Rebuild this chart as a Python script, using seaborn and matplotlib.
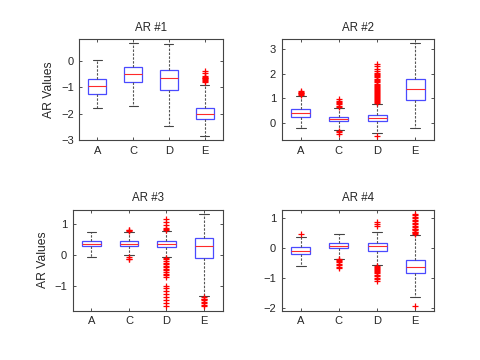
import numpy as np
import pandas as pd
import matplotlib
matplotlib.use("Agg")
import matplotlib.pyplot as plt
import seaborn as sns

categories = ["A", "C", "D", "E"]

# Panel AR #1 : five-number summaries (lower whisker, Q1, median, Q3, upper whisker)
ar1_lo = [-1.78, -1.72, -2.46, -2.82]
ar1_q1 = [-1.23, -0.78, -1.10, -2.20]
ar1_med = [-0.96, -0.51, -0.66, -1.99]
ar1_q3 = [-0.70, -0.24, -0.34, -1.76]
ar1_hi = [0.05, 0.67, 0.63, -0.89]
ar1_outliers = {"E": [-0.37, -0.45, -0.55, -0.60, -0.63, -0.66, -0.70, -0.72, -0.75, -0.80]}

# Panel AR #2
ar2_lo = [-0.23, -0.31, -0.44, -0.23]
ar2_q1 = [0.25, 0.05, 0.05, 0.93]
ar2_med = [0.38, 0.15, 0.18, 1.36]
ar2_q3 = [0.56, 0.25, 0.30, 1.77]
ar2_hi = [1.10, 0.59, 0.78, 3.25]
ar2_outliers = {
    "A": [1.15, 1.18, 1.20, 1.22, 1.25, 1.28],
    "C": [0.65, 0.70, 0.75, 0.80, 0.85, 0.90, 0.95, -0.35, -0.40, -0.45],
    "D": [0.82, 0.86, 0.90, 0.94, 0.98, 1.02, 1.06, 1.10, 1.14, 1.18, 1.22, 1.26,
          1.30, 1.34, 1.38, 1.42, 1.46, 1.50, 1.55, 1.60, 1.65, 1.70, 1.75, 1.80,
          1.85, 1.90, 1.95, 2.00, 2.05, 2.10, 2.20, 2.30, 2.40, -0.53],
}

# Panel AR #3
ar3_lo = [-0.07, 0.00, -0.07, -1.33]
ar3_q1 = [0.27, 0.28, 0.26, -0.09]
ar3_med = [0.34, 0.35, 0.36, 0.28]
ar3_q3 = [0.45, 0.43, 0.43, 0.54]
ar3_hi = [0.72, 0.72, 0.77, 1.29]
ar3_outliers = {
    "C": [0.75, 0.78, 0.80, -0.08, -0.12, -0.15],
    "D": [0.80, 0.82, 0.85, 0.95, 1.05, 1.15, -0.10, -0.15, -0.20, -0.25, -0.30,
          -0.35, -0.40, -0.45, -0.50, -0.55, -0.60, -0.65, -0.70, -1.00, -1.05,
          -1.15, -1.25, -1.35, -1.45, -1.55, -1.65],
    "E": [-1.36, -1.40, -1.43, -1.46, -1.50, -1.55, -1.60, -1.65],
}

# Panel AR #4
ar4_lo = [-0.60, -0.35, -0.58, -1.65]
ar4_q1 = [-0.19, 0.00, -0.09, -0.84]
ar4_med = [-0.08, 0.09, 0.08, -0.62]
ar4_q3 = [0.03, 0.18, 0.17, -0.41]
ar4_hi = [0.39, 0.49, 0.56, 0.44]
ar4_outliers = {
    "A": [0.49],
    "C": [-0.37, -0.40, -0.43, -0.47, -0.52, -0.57, -0.62, -0.67],
    "D": [0.73, 0.80, 0.87, -0.60, -0.63, -0.66, -0.70, -0.73, -0.76, -0.80, -0.85,
          -0.90, -0.95, -1.00, -1.05, -1.10],
    "E": [0.47, 0.50, 0.53, 0.56, 0.60, 0.63, 0.66, 0.70, 0.75, 0.80, 0.85, 0.90,
          0.95, 1.00, 1.05, 1.10, 1.15, -1.93],
}

titles = ["AR #1", "AR #2", "AR #3", "AR #4"]
yticks = [[-3, -2, -1, 0], [0, 1, 2, 3], [-1, 0, 1], [-2, -1, 0, 1]]
ylims = [(-3.0, 0.82), (-0.72, 3.41), (-1.79, 1.45), (-2.10, 1.30)]

panels = [
    (ar1_lo, ar1_q1, ar1_med, ar1_q3, ar1_hi, ar1_outliers),
    (ar2_lo, ar2_q1, ar2_med, ar2_q3, ar2_hi, ar2_outliers),
    (ar3_lo, ar3_q1, ar3_med, ar3_q3, ar3_hi, ar3_outliers),
    (ar4_lo, ar4_q1, ar4_med, ar4_q3, ar4_hi, ar4_outliers),
]

sns.set_style("white")
plt.rcParams["font.family"] = ["Liberation Sans", "DejaVu Sans"]

W, H = 480, 360
fig = plt.figure(figsize=(4.8, 3.6), dpi=100)
# axes rectangles in pixels: left, top, right, bottom
rects_px = [(79.3, 39.3, 222.7, 140.3), (281.7, 39.3, 434.3, 140.3),
            (72.7, 209.5, 222.7, 310.7), (281.7, 209.5, 434.3, 310.7)]

for i, (lo, q1, med, q3, hi, outl) in enumerate(panels):
    l, t, r, b = rects_px[i]
    ax = fig.add_axes([l / W, 1 - b / H, (r - l) / W, (b - t) / H])
    rows = []
    for j, c in enumerate(categories):
        for v in (lo[j], q1[j], med[j], q3[j], hi[j]):
            rows.append((c, v))
    df = pd.DataFrame(rows, columns=["cat", "val"])
    sns.boxplot(data=df, x="cat", y="val", order=categories, whis=np.inf,
                width=0.5, ax=ax, linewidth=0.8,
                boxprops=dict(facecolor="white", edgecolor="#4a4aff", linewidth=0.9),
                whiskerprops=dict(color="#555555", linestyle=(0, (2.2, 1.3)), linewidth=0.8),
                capprops=dict(color="#444444", linewidth=0.8),
                medianprops=dict(color="#ff2a2a", linewidth=0.8))
    orows = []
    for c in categories:
        for v in outl.get(c, []):
            orows.append((c, v))
    if orows:
        odf = pd.DataFrame(orows, columns=["cat", "val"])
        sns.stripplot(data=odf, x="cat", y="val", order=categories, jitter=False,
                      marker="+", color="#ff0000", size=4.5, linewidth=0.9, ax=ax)
    ax.set_xlim(-0.5, 3.5)
    ax.set_ylim(*ylims[i])
    ax.set_yticks(yticks[i])
    ax.set_xticks(range(len(categories)))
    ax.set_xticklabels(categories)
    ax.set_xlabel("")
    ax.set_ylabel("AR Values" if i % 2 == 0 else "", fontsize=8.7, labelpad=4)
    ax.set_title(titles[i], fontsize=8.3, pad=6)
    ax.tick_params(direction="in", length=2.5, width=0.6, labelsize=8,
                   top=True, right=True, left=True, bottom=True, color="#333333", pad=4)
    for s in ax.spines.values():
        s.set_visible(True)
        s.set_color("#444444")
        s.set_linewidth(0.8)

fig.savefig("out.png", dpi=100, facecolor="white")
